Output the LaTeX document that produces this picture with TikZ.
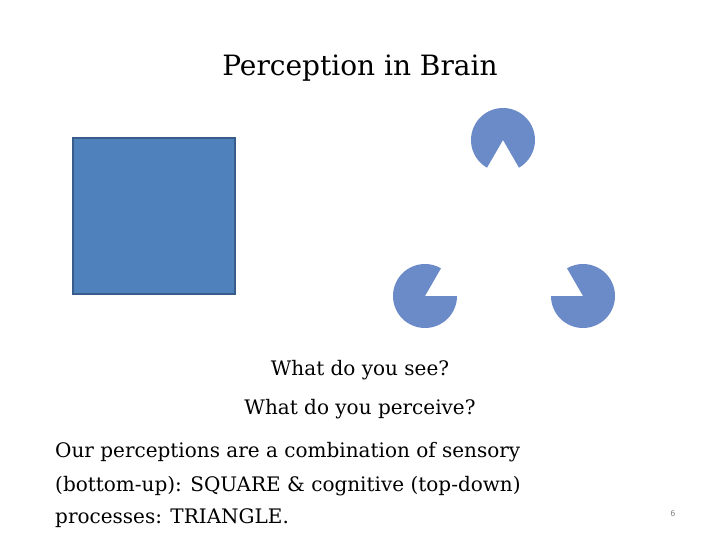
\documentclass[tikz,border=0pt]{standalone}
\usepackage{fontspec}
\setmainfont{DejaVu Serif}
\definecolor{sq}{HTML}{4F81BD}
\definecolor{sqb}{HTML}{385D8A}
\definecolor{pac}{HTML}{6A8AC8}
\begin{document}
\begin{tikzpicture}[x=1pt,y=-1pt,
  body/.style={font=\fontsize{20}{24}\selectfont, inner sep=0pt},
  pacman/.style={fill=pac, draw=none}]
\useasboundingbox (0,0) rectangle (720,540);
\node[font=\fontsize{28}{32}\selectfont] (title) at (360,68) {Perception in Brain};
\node[fill=sq, draw=sqb, line width=2pt, minimum width=162pt, minimum height=156pt, inner sep=0pt] (sq) at (153.5,216) {};
\coordinate (p1) at (503,140);
\coordinate (p2) at (425,296);
\coordinate (p3) at (583,296);
\fill[pacman] (p1) -- ++(120:32) arc[start angle=120, end angle=420, radius=32] -- cycle;
\fill[pacman] (p2) -- ++(0:32) arc[start angle=0, end angle=300, radius=32] -- cycle;
\fill[pacman] (p3) -- ++(180:32) arc[start angle=180, end angle=-120, radius=32] -- cycle;
\node[body] (l1) at (360,370) {What do you see?};
\node[body] (l2) at (360,409) {What do you perceive?};
\node[body, anchor=west] (l3) at (55,452) {Our perceptions are a combination of sensory};
\node[body, anchor=west] (l4) at (55,486) {(bottom-up): SQUARE \& cognitive (top-down)};
\node[body, anchor=west] (l5) at (55,518) {processes: TRIANGLE.};
\node[font=\sffamily\fontsize{9}{10}\selectfont, text=gray] (pn) at (673,514) {6};
\end{tikzpicture}
\end{document}
